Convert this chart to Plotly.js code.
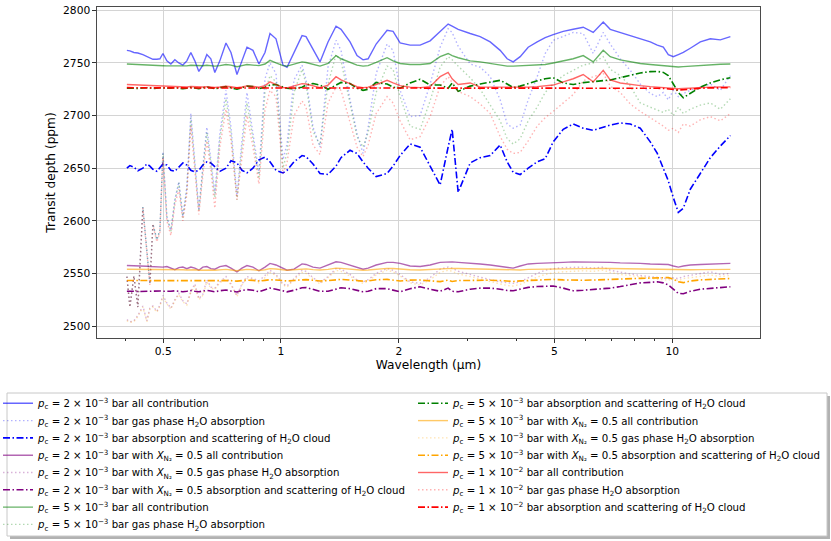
<!DOCTYPE html>
<html><head><meta charset="utf-8">
<script src="https://cdn.plot.ly/plotly-3.0.1.min.js"></script>
<style>html,body{margin:0;padding:0;background:#fff}#chart{width:831px;height:541px}</style>
</head><body><div id="chart"></div>
<script>
// Wavelength grid (µm)
const wavelength = [0.4038,0.4110,0.4208,0.4308,0.4436,0.4542,0.4623,0.4706,0.4818,0.4904,0.4992,
 0.5109,0.5231,0.5355,0.5482,0.5613,0.5746,0.5883,0.6023,0.6167,0.6313,0.6464,0.6618,0.6775,0.6978,0.7234,0.7450,0.7718,0.7947,0.8186,0.8479,0.8783,0.9101,0.9373,0.9710,
 1.0119,1.0360,1.0796,1.1318,1.1587,1.2074,1.2580,1.3188,1.3824,1.4237,1.5012,1.5643,1.6207,1.6699,1.7506,1.8669,1.9340,2.0153,
 2.1373,2.2674,2.4048,2.5506,2.6736,2.7375,2.8364,3.0443,3.2283,3.4244,3.6317,3.7844,3.9207,4.0857,4.2825,4.5152,4.7336,4.9618,
 5.2628,5.5817,5.9201,6.2791,6.6596,6.9395,7.3621,7.8087,8.2824,8.7845,9.1544,9.4843,9.7672,10.059,10.360,10.669,11.117,11.791,12.510,13.266,14.073];

// p_c = 2e-3 bar
const blueAll = [2762,2761.5,2760,2759.5,2758,2756,2754.5,2753.5,2753.5,2754,2759,
 2752,2749,2753,2750,2748,2752,2760,2752,2742,2748,2758,2754,2741,2752,2769,2760,2739,2752,2765,2762,2749,2760,2778,2773,
 2748,2746,2760,2776,2775,2763,2751,2770,2785,2782,2770,2757,2753,2754,2768,2781,2780,2769,
 2767,2767,2771,2780,2787,2785,2782,2778,2775,2770,2762,2754,2751,2756,2765,2770,2774,2777,
 2780,2782,2784,2779,2789,2782,2779,2776,2773,2770,2767,2765,2758,2756,2758,2760,2764,2770,2773,2772,2775];
const blueGas = [2547,2518,2547.5,2518,2613,2575,2540,2597,2582,2591,2665.5,
 2604,2591,2620,2637,2604,2632,2702,2658,2610,2651,2689,2658,2626,2683,2724,2689,2624,2676,2722,2683,2645,2735,2750,2740,
 2658,2673,2734,2748,2734,2689,2670,2746,2771.5,2762,2715,2683,2664,2689,2740,2768,2762,2724,
 2699,2700,2730,2765,2782.6,2779,2766,2749,2746,2737,2715,2692,2688,2691,2715,2737,2759,2771.5,
 2775,2779,2778,2759,2779,2768,2754,2743,2730,2721,2718,2722,2715,2724,2718,2721,2724,2727,2730,2724,2738];
const blueCloud = [2650,2652.5,2651,2647.5,2650,2654,2652,2649,2647,2650,2654,
 2653,2648,2647,2651,2655,2653,2648,2646.5,2648,2653,2656,2655,2651,2647,2650,2657,2655,2648,2645.5,2650,2658,2660.5,2656,2648,
 2645.5,2648,2656,2662,2661,2654,2645,2644,2652,2660,2667,2664,2656,2650,2642,2645,2652,2662,
 2673,2670,2652,2634,2670,2687,2627,2655,2660,2662,2672,2656,2646,2644,2650,2656,2659,2675,
 2687,2692,2688,2686,2689,2691,2693,2692,2688,2675,2664,2650,2638,2622,2608,2612,2630,2645,2660,2671,2681];

// p_c = 2e-3 bar with X_N2 = 0.5
const purpleAll = [2557.5,2557.5,2557.3,2557,2557,2556.8,2556.6,2556.5,2556.3,2556,2556,
 2556.5,2555,2553.5,2555.5,2556,2554.5,2556,2555,2553,2556,2556.5,2554.5,2554,2556.5,2557.5,2555,2551.5,2555,2557.5,2556,2552.5,2556,2559.5,2558,
 2555,2553,2554,2559,2558.5,2556,2555,2558,2561,2560.5,2558,2555.5,2554,2555,2558,2560.5,2560.5,2559.5,
 2557,2556.5,2558,2560.5,2561,2561,2560.5,2560,2559,2558,2556.5,2555.5,2555,2557,2559,2559.5,2560,2560,
 2560.5,2561,2561,2561,2561,2560.5,2560,2560,2559.5,2559,2559,2558.5,2558.5,2557,2556,2557,2558,2558.5,2559,2559,2559.5];
const purpleGas = [2506,2504,2505,2510,2519,2505,2517,2519,2514,2520,2529,
 2522,2517,2525,2531,2524,2521,2533,2540,2526,2530,2544,2537,2536,2542,2547,2540,2529,2540,2547,2545,2543,2548,2553,2549,
 2540,2538,2545,2553,2552,2546,2541,2547,2554.5,2554,2549,2544,2542,2544,2550,2554.7,2553,2549,
 2542,2540.5,2546,2554,2556,2555,2552,2549,2546,2544,2542,2541,2540.5,2542,2546,2550,2553,2554.5,
 2555.5,2556,2556,2555,2556,2553,2551,2549.5,2548,2547,2546,2546,2545,2546,2545,2547,2548,2550,2551.5,2549,2550];
const purpleCloud = [2533,2533.2,2533,2532.8,2533,2533.2,2533,2532.8,2533,2533.3,2533,
 2532.7,2533,2533.4,2533,2532.6,2533,2533.6,2533,2532.6,2533.2,2533.8,2533.2,2532.5,2533.5,2534.2,2533.2,2532.3,2533.8,2534.6,2534,2532.5,2534.5,2536,2535,
 2533,2532.5,2534,2536.3,2536.6,2535,2533,2533,2535,2536.3,2535.5,2533.5,2532.5,2533,2535.5,2535.5,2534,2532.5,
 2535.5,2537.3,2535,2533,2536,2533,2532.5,2535,2536,2536,2535,2533.8,2533.5,2535,2536.7,2537.5,2538,2538,
 2536,2533.5,2534,2534.5,2535.5,2536,2537.5,2539.5,2541,2541.5,2542,2541,2539,2535,2531,2530.7,2533,2535,2536,2536.6,2537.3];

// p_c = 5e-3 bar
const greenAll = [2749,2748.8,2748.6,2748.4,2748.2,2748,2747.8,2747.7,2747.6,2747.5,2747.3,
 2747.2,2747.2,2747.2,2747.3,2747,2747.2,2747.8,2747.5,2747,2747.3,2747.8,2747.5,2747,2747.5,2748.5,2748,2746.5,2747.5,2748.5,2748,2747.5,2749,2752.5,2750,
 2747.5,2747,2749,2751,2750.5,2748.5,2747,2749.5,2757,2754,2751,2748,2747,2747.5,2750.5,2755,2752,2749.5,
 2748.5,2748.5,2749.5,2756,2759,2757,2755,2752,2751,2749.5,2748,2747,2747,2747.2,2747.5,2748,2748.5,2750,
 2752,2754,2757,2751,2762,2756,2753,2751,2749.5,2748.5,2748,2747.5,2747,2746.5,2746.2,2746.5,2747,2747.7,2748.3,2748.8,2749];
const greenGas = [2547,2518,2547.5,2518,2613,2575,2540,2597,2582,2591,2664,
 2603,2590,2619,2636,2603,2630,2698,2656,2609,2649,2684,2655,2622,2678,2716,2684,2620,2670,2712,2678,2640,2722,2738,2732,
 2650,2665,2722,2744,2730,2685,2672,2730,2758,2752,2712,2680,2670,2684,2722,2747,2744,2718,
 2690,2687,2714,2746,2756,2753,2747,2736,2725,2710,2695,2678,2673,2678,2695,2708,2722,2730,
 2738,2743,2748,2750,2756,2744,2738,2728,2712,2708,2705,2703,2706,2700,2708,2702,2706,2710,2712,2706,2716];
const greenCloud = [2726,2726.3,2726,2725.8,2726.3,2726.5,2726.2,2725.8,2726,2726.5,2726.2,
 2725.8,2726,2726.6,2726.2,2725.6,2726,2726.8,2726.2,2725.5,2726.4,2727.2,2726.5,2725.5,2726.5,2727.5,2726.5,2725,2726.5,2728,2727.5,2725.5,2727,2729,2729.5,
 2727,2726,2725.5,2727,2729,2730.5,2729,2725,2729,2731.5,2730.5,2726,2724,2725,2731.5,2730,2727,2726,
 2731,2734.5,2729,2729,2726,2731,2723,2728,2730,2732,2733.5,2730,2726.6,2728,2730.5,2733,2735,2736,
 2731,2729.5,2731.3,2732.5,2733.2,2733.8,2736,2738,2740.5,2741.8,2742,2741,2738,2730,2722,2717,2721,2727,2731,2734,2736];

// p_c = 5e-3 bar with X_N2 = 0.5
const orangeAll = [2554,2554,2553.9,2553.9,2553.8,2553.8,2553.7,2553.7,2553.6,2553.6,2553.5,
 2553.5,2553.4,2553.3,2553.4,2553.4,2553.2,2553.5,2553.4,2553,2553.3,2553.6,2553.3,2553,2553.4,2553.8,2553.2,2552.5,2553.3,2553.8,2553.5,2552.8,2553.5,2554.5,2554.2,
 2553.2,2553,2553.4,2554.4,2554.3,2553.6,2553.2,2553.8,2555,2554.8,2554,2553.3,2553,2553.2,2554,2554.8,2554.6,2554,
 2553.4,2553.3,2553.8,2554.7,2555,2554.8,2554.6,2554.3,2554,2553.6,2553.2,2553,2553,2553.3,2553.8,2554,2554.2,2554.3,
 2554.5,2554.6,2554.7,2554.6,2554.8,2554.6,2554.4,2554.2,2554,2553.9,2553.8,2553.7,2553.6,2553.4,2553.2,2553.3,2553.5,2553.6,2553.7,2553.7,2553.8];
const orangeGas = [2505,2503.5,2504,2509,2518,2504,2516,2518,2513,2519,2527.5,
 2521,2516,2524,2530,2523,2520,2532,2538,2525,2529,2542,2536,2535,2541,2545,2539,2528,2539,2545,2544,2541,2546,2551,2548,
 2539,2537,2544,2551,2550,2545,2540,2546,2553,2552,2547.5,2543,2540.5,2542.5,2548.5,2553,2551.5,2547.5,
 2541,2539,2544,2551,2553,2552,2549.5,2547,2544.5,2542,2540,2538.5,2538,2539.5,2543,2546.5,2549,2550.5,
 2551.5,2552,2552.5,2552,2553,2551,2549,2548,2546.5,2545.5,2544.5,2544,2543.5,2545,2543,2545,2546,2547.5,2548.5,2547,2548];
const orangeCloud = [2543.2,2543.2,2543.1,2543.1,2543.1,2543.2,2543.1,2543,2543.1,2543.2,2543.1,
 2543,2543.1,2543.2,2543.1,2542.9,2543.1,2543.3,2543.1,2542.9,2543.1,2543.4,2543.1,2542.8,2543.2,2543.5,2543.1,2542.7,2543.3,2543.6,2543.4,2542.8,2543.4,2544,2543.7,
 2543,2542.8,2543.3,2544.1,2544.1,2543.5,2542.8,2543.2,2544.2,2544.3,2543.7,2542.9,2542.6,2542.9,2543.9,2544.3,2543.6,2542.8,
 2543.6,2543.7,2542.9,2542.2,2543.6,2542.3,2543.2,2543.5,2543.6,2543.5,2543.2,2542.6,2542.3,2542.9,2543.4,2543.8,2544.1,2544.3,
 2543.8,2543.3,2543.5,2543.7,2543.9,2544.1,2544.5,2545,2545.3,2545.6,2546,2546.3,2546,2544.5,2542,2541.2,2542.8,2543.8,2544.5,2544.9,2545.2];

// p_c = 1e-2 bar
const redAll = [2729.5,2729.4,2729.2,2729,2728.8,2728.6,2728.4,2728.3,2728.1,2728,2727.8,
 2727.6,2727.5,2727.4,2727.3,2727.1,2727.2,2727.6,2727.2,2726.8,2727.1,2727.5,2727.2,2726.7,2727.2,2728,2727.4,2726.4,2727.2,2728.2,2727.8,2727,2728.5,2732,2729.5,
 2726.6,2726.4,2728,2730.4,2730,2728,2726.6,2729,2737,2734,2730,2727.5,2726.6,2727,2729.5,2733.5,2731,2728.5,
 2727,2726.6,2727.5,2737,2741,2735,2729.5,2731,2727,2727,2726.8,2726.6,2726.6,2726.8,2727,2727.5,2728,2729,
 2732,2735,2739,2732,2743,2734,2731,2729.5,2728.5,2727.5,2727,2726.5,2726,2725.6,2725.5,2725.8,2726.2,2726.6,2727,2727.2,2727.3];
const redGas = [2547,2518,2547.5,2518,2612,2574,2539,2596,2580,2589,2660,
 2600,2586,2615,2630,2600,2625,2690,2650,2606,2643,2676,2648,2612,2670,2706,2676,2620,2660,2700,2670,2635,2705,2724,2718,
 2645,2655,2700,2714,2708,2672,2663,2712,2727,2724,2695,2670,2661,2672,2702,2718,2712,2695,
 2677,2680,2699,2728,2737,2731,2723,2718,2711,2702,2680,2668,2664,2665,2676,2690,2698,2704,
 2712,2720,2733,2737,2740,2728,2722,2711,2704,2698,2693,2690,2686,2688,2684,2692,2690,2696,2699,2695,2702];
const redCloud = [2726.6,2726.5,2726.5,2726.4,2726.4,2726.4,2726.3,2726.3,2726.3,2726.3,2726.3,
 2726.2,2726.3,2726.4,2726.3,2726.2,2726.3,2726.4,2726.3,2726.2,2726.3,2726.4,2726.3,2726.2,2726.3,2726.4,2726.3,2726.2,2726.3,2726.4,2726.3,2726.2,2726.3,2726.4,2726.3,
 2726.3,2726.2,2726.3,2726.4,2726.3,2726.3,2726.2,2726.3,2726.4,2726.3,2726.3,2726.2,2726.3,2726.3,2726.4,2726.4,2726.3,2726.3,
 2726.4,2726.4,2726.4,2726.5,2726.5,2726.5,2726.4,2726.4,2726.4,2726.4,2726.4,2726.4,2726.4,2726.4,2726.4,2726.5,2726.5,2726.5,
 2726.5,2726.5,2726.6,2726.5,2726.6,2726.5,2726.5,2726.4,2726.3,2726.2,2726,2725.8,2725.3,2724.8,2724.4,2724.5,2725.2,2726,2726.3,2726.4,2726.5];

const seriesNames = [
 '<i>p</i><sub>c</sub> = 2 × 10<sup>−3</sup> bar all contribution',
 '<i>p</i><sub>c</sub> = 2 × 10<sup>−3</sup> bar gas phase H<sub>2</sub>O absorption',
 '<i>p</i><sub>c</sub> = 2 × 10<sup>−3</sup> bar absorption and scattering of H<sub>2</sub>O cloud',
 '<i>p</i><sub>c</sub> = 2 × 10<sup>−3</sup> bar with <i>X</i><sub>N₂</sub> = 0.5 all contribution',
 '<i>p</i><sub>c</sub> = 2 × 10<sup>−3</sup> bar with <i>X</i><sub>N₂</sub> = 0.5 gas phase H<sub>2</sub>O absorption',
 '<i>p</i><sub>c</sub> = 2 × 10<sup>−3</sup> bar with <i>X</i><sub>N₂</sub> = 0.5 absorption and scattering of H<sub>2</sub>O cloud',
 '<i>p</i><sub>c</sub> = 5 × 10<sup>−3</sup> bar all contribution',
 '<i>p</i><sub>c</sub> = 5 × 10<sup>−3</sup> bar gas phase H<sub>2</sub>O absorption',
 '<i>p</i><sub>c</sub> = 5 × 10<sup>−3</sup> bar absorption and scattering of H<sub>2</sub>O cloud',
 '<i>p</i><sub>c</sub> = 5 × 10<sup>−3</sup> bar with <i>X</i><sub>N₂</sub> = 0.5 all contribution',
 '<i>p</i><sub>c</sub> = 5 × 10<sup>−3</sup> bar with <i>X</i><sub>N₂</sub> = 0.5 gas phase H<sub>2</sub>O absorption',
 '<i>p</i><sub>c</sub> = 5 × 10<sup>−3</sup> bar with <i>X</i><sub>N₂</sub> = 0.5 absorption and scattering of H<sub>2</sub>O cloud',
 '<i>p</i><sub>c</sub> = 1 × 10<sup>−2</sup> bar all contribution',
 '<i>p</i><sub>c</sub> = 1 × 10<sup>−2</sup> bar gas phase H<sub>2</sub>O absorption',
 '<i>p</i><sub>c</sub> = 1 × 10<sup>−2</sup> bar absorption and scattering of H<sub>2</sub>O cloud'
];
const seriesValues = [blueAll, blueGas, blueCloud, purpleAll, purpleGas, purpleCloud,
  greenAll, greenGas, greenCloud, orangeAll, orangeGas, orangeCloud, redAll, redGas, redCloud];
const seriesColors = ['#0000ff','#0000ff','#0000ff','#800080','#800080','#800080',
  '#008000','#008000','#008000','#ffa500','#ffa500','#ffa500','#ff0000','#ff0000','#ff0000'];
const seriesKinds = ['all','gas','cloud','all','gas','cloud','all','gas','cloud','all','gas','cloud','all','gas','cloud'];

const kindStyle = {
  all:   {opacity: 0.6, dash: 'solid', width: 1.4},
  gas:   {opacity: 0.3, dash: '1.5px,2.5px', width: 1.4},
  cloud: {opacity: 1.0, dash: '7px,2.5px,1.5px,2.5px', width: 1.6}
};

const FONT = 'DejaVu Sans, Verdana, sans-serif';
const legendId = i => i === 0 ? 'legend' : 'legend' + (i + 1);

const traces = seriesValues.map((vals, i) => {
  const st = kindStyle[seriesKinds[i]];
  return {
    type: 'scatter', mode: 'lines', x: wavelength, y: vals, name: seriesNames[i],
    legend: legendId(i), opacity: st.opacity,
    line: {color: seriesColors[i], width: st.width, dash: st.dash}
  };
});

// geometry (pixels) of the plot area
const W = 831, H = 541, L = 97, R = 760, T = 7, B = 338;
const pw = R - L, ph = B - T;
const px2x = px => (px - L) / pw;
const py2y = py => (B - py) / ph;

const layout = {
  width: W, height: H,
  margin: {l: L, r: W - R, t: T, b: H - B, autoexpand: false},
  paper_bgcolor: '#ffffff', plot_bgcolor: '#ffffff',
  font: {family: FONT, size: 10.7, color: '#000'},
  showlegend: true,
  xaxis: {
    type: 'log', range: [-0.4702, 1.2241],
    tickmode: 'array', tickvals: [0.5, 1, 2, 5, 10], ticktext: ['0.5', '1', '2', '5', '10'],
    ticks: 'outside', ticklen: 3.5, tickwidth: 1, tickcolor: '#333',
    showgrid: true, gridcolor: '#d4d4d4', gridwidth: 1,
    showline: true, mirror: true, linecolor: '#4a4a4a', linewidth: 1.1, zeroline: false,
    minor: {tickmode: 'array', tickvals: [0.4, 0.6, 0.7, 0.8, 0.9, 3, 4, 6, 7, 8, 9],
            ticks: 'outside', ticklen: 2, tickcolor: '#333', showgrid: false},
    title: {text: 'Wavelength (µm)', font: {size: 12.2}, standoff: 3}
  },
  yaxis: {
    range: [2488.6, 2803.2],
    tickmode: 'array', tickvals: [2500, 2550, 2600, 2650, 2700, 2750, 2800],
    ticks: 'outside', ticklen: 3.5, tickwidth: 1, tickcolor: '#333',
    showgrid: true, gridcolor: '#d4d4d4', gridwidth: 1,
    showline: true, mirror: true, linecolor: '#4a4a4a', linewidth: 1.1, zeroline: false,
    title: {text: 'Transit depth (ppm)', font: {size: 12.2}, standoff: 4}
  },
  shapes: [
    {type: 'rect', xref: 'paper', yref: 'paper', layer: 'below',
     x0: px2x(10), x1: px2x(830), y0: py2y(539), y1: py2y(396),
     line: {width: 0}, fillcolor: 'rgba(0,0,0,0.3)'},
    {type: 'rect', xref: 'paper', yref: 'paper', layer: 'below',
     x0: px2x(7), x1: px2x(827), y0: py2y(536), y1: py2y(393),
     line: {width: 1, color: '#c8c8c8'}, fillcolor: '#ffffff'}
  ]
};

// Legend: two columns, 8 rows then 7 rows
const rowY0 = 403.3, rowStep = 17.3;
seriesNames.forEach((n, i) => {
  const col = i < 8 ? 0 : 1;
  const row = i < 8 ? i : i - 8;
  const textX = col === 0 ? 38 : 453;
  layout[legendId(i)] = {
    x: px2x(textX - 40), xanchor: 'left',
    y: py2y(rowY0 + row * rowStep - 14.5), yanchor: 'top',
    bgcolor: 'rgba(0,0,0,0)', borderwidth: 0,
    font: {family: FONT, size: 10.2, color: '#000'}
  };
});

Plotly.newPlot('chart', traces, layout, {displayModeBar: false, staticPlot: true});
</script>
</body></html>
